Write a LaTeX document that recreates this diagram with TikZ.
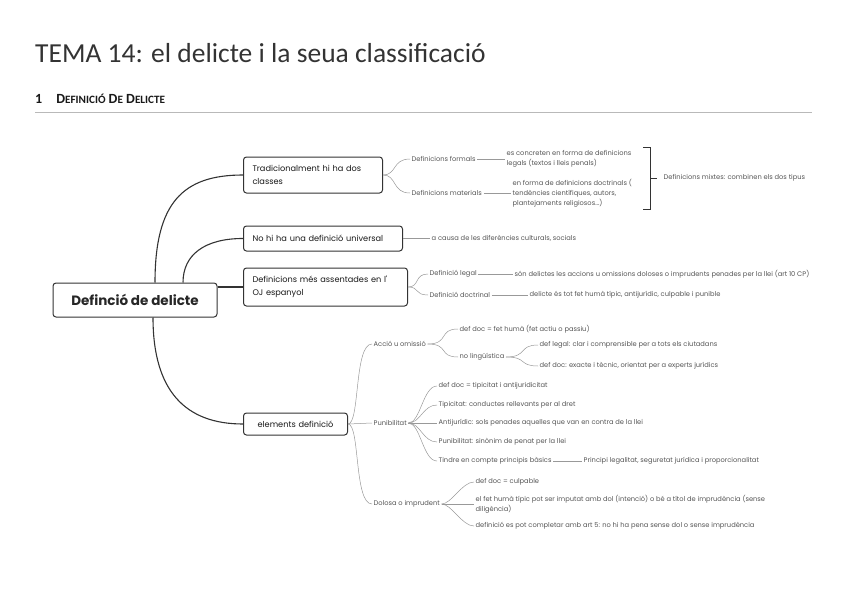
\documentclass[tikz,border=0pt]{standalone}
\usepackage{fontspec}
\setmainfont{Carlito}
\newfontfamily\mapfont{Poppins}
\usetikzlibrary{calc}
\definecolor{ink}{HTML}{333333}
\definecolor{leafc}{HTML}{555555}
\definecolor{leafline}{HTML}{999999}
\newcommand{\smc}[1]{{\fontsize{11.2}{13}\selectfont #1}}
\begin{document}
\begin{tikzpicture}[x=1pt,y=-1pt,
  rootbox/.style={draw=ink, line width=1pt, rounded corners=3pt, fill=white, minimum width=164pt, minimum height=34pt, inner sep=0pt, font=\mapfont\bfseries\fontsize{13.5}{16}\selectfont, text=black!85},
  box/.style={draw=ink, line width=1pt, rounded corners=3pt, fill=white, anchor=west, inner xsep=9pt, inner ysep=0pt, font=\mapfont\fontsize{8.2}{13}\selectfont, align=left, text=black!90},
  leaf/.style={anchor=west, inner xsep=1.5pt, inner ysep=1pt, font=\mapfont\fontsize{6.7}{10}\selectfont, text=leafc, align=left},
  trunk/.style={draw=ink, line width=1.1pt},
  twig/.style={draw=leafline, line width=0.5pt},
  brk/.style={draw=ink, line width=0.9pt},
]
\useasboundingbox (0,0) rectangle (848,599);

% title and heading
\node[anchor=base west, inner sep=0pt, font=\fontsize{27.5}{32}\selectfont, text=black!80] (title) at (35,63) {TEMA 14: el delicte i la seua classificació};
\node[anchor=base west, inner sep=0pt, font=\bfseries\fontsize{14}{16}\selectfont, text=black!90] (sec) at (35,104) {1\hspace{14pt}D\smc{EFINICIÓ} D\smc{E} D\smc{ELICTE}};
\draw[gray!55, line width=0.6pt] (35,112) -- (812,112);

% root and main branches
\node[rootbox] (root) at (135,300) {Definció de delicte};
\node[box, minimum height=36pt, text width=121pt] (b1) at (243,175) {Tradicionalment hi ha dos\\classes};
\node[box, minimum height=25pt, text width=141pt] (b2) at (243,238.5) {No hi ha una definició universal};
\node[box, minimum height=38pt, text width=146pt] (b3) at (243,287) {Definicions més assentades en l'\\OJ espanyol};
\node[box, minimum height=22pt, text width=86pt, align=center] (b4) at (243,424) {elements definició};

\draw[trunk] ([xshift=20pt]root.north) .. controls ($([xshift=20pt]root.north)+(0,-80)$) and ($(b1.west)+(-60,0)$) .. (b1.west);
\draw[trunk] ([xshift=48pt]root.north) .. controls ($([xshift=48pt]root.north)+(0,-28)$) and ($(b2.west)+(-38,0)$) .. (b2.west);
\draw[trunk] (root.east |- b3.west) -- (b3.west);
\draw[trunk] ([xshift=18pt]root.south) .. controls ($([xshift=18pt]root.south)+(0,73)$) and ($(b4.west)+(-58,0)$) .. (b4.west);

% branch 1
\node[leaf] (f1) at (410,159) {Definicions formals};
\node[leaf] (f2) at (410,193) {Definicions materials};
\draw[twig] (b1.east) .. controls ($(b1.east)+(14,0)$) and ($(f1.west)+(-18,0)$) .. (f1.west);
\draw[twig] (b1.east) .. controls ($(b1.east)+(14,0)$) and ($(f2.west)+(-18,0)$) .. (f2.west);
\node[leaf] (f1d) at (505,159) {es concreten en forma de definicions\\legals (textos i lleis penals)};
\node[leaf] (f2d) at (511,193) {en forma de definicions doctrinals (\\tendències científiques, autors,\\plantejaments religiosos...)};
\draw[twig] (f1.east) -- (f1d.west);
\draw[twig] (f2.east) -- (f2d.west);
\coordinate (brt) at (650,147);
\coordinate (brb) at (650,209);
\node[leaf] (mix) at (662,178) {Definicions mixtes: combinen els dos tipus};
\draw[brk] ($(brt)+(-7,0)$) -- (brt) -- (brb) -- ($(brb)+(-7,0)$);
\draw[brk] (brt |- mix.west) -- ++(7,0);

% branch 2
\node[leaf] (u1) at (430,238.5) {a causa de les diferències culturals, socials};
\draw[twig] (b2.east) -- (u1.west);

% branch 3
\node[leaf] (l1) at (428,274) {Definició legal};
\node[leaf] (l2) at (428,295) {Definició doctrinal};
\draw[twig] (b3.east) .. controls ($(b3.east)+(12,0)$) and ($(l1.west)+(-14,0)$) .. (l1.west);
\draw[twig] (b3.east) .. controls ($(b3.east)+(12,0)$) and ($(l2.west)+(-14,0)$) .. (l2.west);
\node[leaf] (l1d) at (513,274) {són delictes les accions u omissions doloses o imprudents penades per la llei (art 10 CP)};
\node[leaf] (l2d) at (528,295) {delicte és tot fet humà típic, antijurídic, culpable i punible};
\draw[twig] (l1.east) -- (l1d.west);
\draw[twig] (l2.east) -- (l2d.west);

% branch 4
\node[leaf] (a1) at (372,344) {Acció u omissió};
\node[leaf] (p1) at (372,423) {Punibilitat};
\node[leaf] (d1) at (372,504) {Dolosa o imprudent};
\draw[twig] (b4.east) .. controls ($(b4.east)+(12,0)$) and ($(a1.west)+(-18,0)$) .. (a1.west);
\draw[twig] (b4.east) -- (p1.west);
\draw[twig] (b4.east) .. controls ($(b4.east)+(12,0)$) and ($(d1.west)+(-18,0)$) .. (d1.west);

\node[leaf] (a2) at (458,329) {def doc = fet humà (fet actiu o passiu)};
\node[leaf] (a3) at (458,357) {no lingüística};
\draw[twig] (a1.east) .. controls ($(a1.east)+(22,0)$) and ($(a2.west)+(-20,0)$) .. (a2.west);
\draw[twig] (a1.east) .. controls ($(a1.east)+(22,0)$) and ($(a3.west)+(-20,0)$) .. (a3.west);
\node[leaf] (a4) at (538,345) {def legal: clar i comprensible per a tots els ciutadans};
\node[leaf] (a5) at (538,366) {def doc: exacte i tècnic, orientat per a experts jurídics};
\draw[twig] (a3.east) .. controls ($(a3.east)+(22,0)$) and ($(a4.west)+(-20,0)$) .. (a4.west);
\draw[twig] (a3.east) .. controls ($(a3.east)+(22,0)$) and ($(a5.west)+(-20,0)$) .. (a5.west);

\node[leaf] (p2) at (437,386) {def doc = tipicitat i antijuridicitat};
\node[leaf] (p3) at (437,405) {Tipicitat: conductes rellevants per al dret};
\node[leaf] (p4) at (437,423) {Antijurídic: sols penades aquelles que van en contra de la llei};
\node[leaf] (p5) at (437,442) {Punibilitat: sinònim de penat per la llei};
\node[leaf] (p6) at (437,461) {Tindre en compte principis bàsics};
\node[leaf] (p7) at (582,461) {Principi legalitat, seguretat jurídica i proporcionalitat};
\foreach \t in {p2,p3,p5,p6}
  \draw[twig] (p1.east) .. controls ($(p1.east)+(12,0)$) and ($(\t.west)+(-14,0)$) .. (\t.west);
\draw[twig] (p1.east) -- (p4.west);
\draw[twig] (p6.east) -- (p7.west);

\node[leaf] (d2) at (474,482) {def doc = culpable};
\node[leaf] (d3) at (474,504) {el fet humà típic pot ser imputat amb dol (intenció) o bé a títol de imprudència (sense\\diligència)};
\node[leaf] (d4) at (474,526) {definició es pot completar amb art 5: no hi ha pena sense dol o sense imprudència};
\draw[twig] (d1.east) .. controls ($(d1.east)+(10,0)$) and ($(d2.west)+(-12,0)$) .. (d2.west);
\draw[twig] (d1.east) -- (d3.west);
\draw[twig] (d1.east) .. controls ($(d1.east)+(10,0)$) and ($(d4.west)+(-12,0)$) .. (d4.west);
\end{tikzpicture}
\end{document}
